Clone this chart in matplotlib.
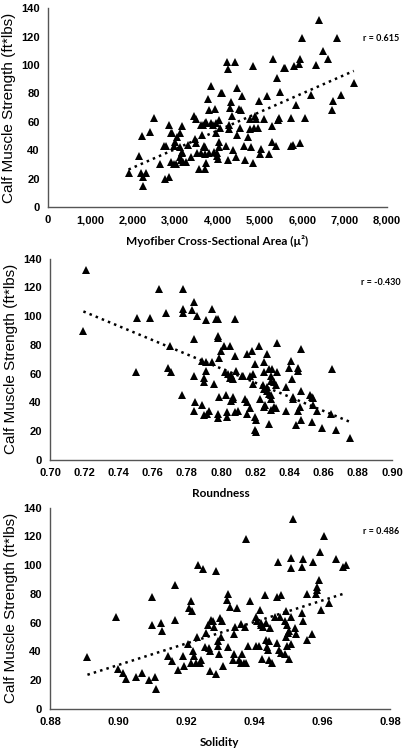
import matplotlib
matplotlib.use("Agg")
import matplotlib.pyplot as plt
from matplotlib.ticker import FuncFormatter
import numpy as np

plt.rcParams['font.family'] = 'Liberation Sans'
plt.rcParams['font.weight'] = 'bold'

# Panel 1: myofiber cross-sectional area vs strength
area = [1900, 2150, 2220, 2200, 2310, 2250, 2250, 2415, 2500, 2635, 2740, 2785, 2770, 2865,
        2850, 2890, 2935, 2910, 2975, 2990, 2980, 3020, 3045, 3110, 3165, 3125, 3150, 3115,
        3170, 3130, 3195, 3250, 3305, 3385, 3440, 3495, 3475, 3485, 3515, 3565, 3620, 3635,
        3610, 3650, 3700, 3735, 3770, 3790, 3680, 3715, 3700, 3730, 3715, 3790, 3850, 3855,
        3895, 3950, 3910, 3975, 3975, 3990, 4000, 4030, 4035, 4030, 3990, 4060, 4070, 4100,
        4200, 4225, 4250, 4255, 4270, 4270, 4305, 4325, 4335, 4365, 4405, 4440, 4460, 4460,
        4500, 4530, 4555, 4580, 4620, 4640, 4720, 4760, 4775, 4800, 4840, 4845, 4860, 4880,
        4915, 4955, 4980, 5005, 5020, 5090, 5170, 5215, 5300, 5295, 5290, 5375, 5400, 5420,
        5445, 5470, 5560, 5600, 5745, 5735, 5785, 5800, 5845, 5915, 5955, 5950, 5995, 6075,
        6210, 6320, 6390, 6490, 6595, 6705, 6720, 6820, 6910, 7215]
strength_area = [24, 36, 50, 24, 24, 21, 15, 53, 63, 30, 43, 43, 20, 21,
                 58, 52, 52, 32, 43, 46, 30, 30, 49, 52, 57, 42, 39, 35,
                 38, 33, 32, 32, 44, 35, 64, 62, 48, 45, 38, 27, 38, 51,
                 58, 58, 59, 60, 76, 68, 43, 42, 37, 31, 27, 38, 85, 59,
                 58, 69, 39, 59, 52, 36, 34, 61, 46, 42, 38, 56, 80, 80,
                 43, 102, 97, 33, 58, 55, 70, 74, 64, 40, 102, 35, 84, 51,
                 69, 56, 68, 78, 43, 33, 49, 55, 62, 42, 99, 31, 56, 64,
                 62, 56, 75, 37, 41, 62, 78, 37, 104, 57, 46, 43, 91, 61,
                 63, 81, 98, 98, 63, 43, 44, 99, 72, 101, 104, 45, 119, 63,
                 79, 100, 132, 110, 104, 68, 75, 119, 79, 87]

# Panel 2: roundness vs strength
roundness = [0.721, 0.7195, 0.750, 0.751, 0.7585, 0.764, 0.768, 0.770, 0.769, 0.771, 0.777,
             0.778, 0.778, 0.778, 0.783, 0.784, 0.786, 0.784, 0.784, 0.785, 0.784, 0.789,
             0.790, 0.790, 0.789, 0.790, 0.791, 0.791, 0.791, 0.792, 0.793, 0.795, 0.795,
             0.797, 0.796, 0.798, 0.798, 0.798, 0.799, 0.798, 0.798, 0.799, 0.800, 0.802,
             0.8025, 0.803, 0.8035, 0.8035, 0.804, 0.805, 0.805, 0.806, 0.806, 0.807, 0.807,
             0.807, 0.808, 0.808, 0.808, 0.809, 0.810, 0.812, 0.813, 0.814, 0.815, 0.815,
             0.815, 0.817, 0.817, 0.818, 0.819, 0.819, 0.820, 0.820, 0.8205, 0.820, 0.8205,
             0.822, 0.823, 0.8245, 0.825, 0.825, 0.825, 0.826, 0.825, 0.827, 0.827, 0.827,
             0.828, 0.828, 0.828, 0.829, 0.829, 0.829, 0.829, 0.829, 0.830, 0.831, 0.832,
             0.831, 0.832, 0.833, 0.833, 0.838, 0.838, 0.841, 0.840, 0.8415, 0.842, 0.842,
             0.844, 0.845, 0.845, 0.845, 0.846, 0.847, 0.847, 0.847, 0.852, 0.853, 0.853,
             0.854, 0.854, 0.856, 0.859, 0.8645, 0.865, 0.8675, 0.8756]
strength_round = [132, 90, 61, 99, 99, 119, 102, 79, 64, 61, 45,
                  119, 105, 102, 104, 110, 100, 84, 58, 40, 34, 69,
                  57, 54, 38, 31, 68, 62, 97, 32, 34, 68, 105,
                  98, 53, 86, 85, 98, 71, 32, 29, 44, 76, 79,
                  61, 45, 33, 30, 60, 79, 57, 59, 41, 56, 44,
                  42, 33, 72, 98, 62, 34, 58, 58, 42, 74, 40,
                  32, 58, 36, 76, 60, 53, 67, 30, 28, 21, 19,
                  79, 42, 52, 49, 61, 68, 38, 37, 51, 74, 48,
                  46, 25, 63, 58, 55, 45, 42, 35, 63, 54, 52,
                  37, 36, 61, 81, 51, 34, 69, 64, 56, 44, 42,
                  24, 34, 64, 62, 37, 77, 48, 28, 45, 44, 26,
                  38, 43, 34, 22, 32, 63, 21, 15]

# Panel 3: solidity vs strength
solidity = [0.891, 0.8995, 0.900, 0.9014, 0.9022, 0.9053, 0.907, 0.909, 0.910, 0.910, 0.911,
            0.9112, 0.9126, 0.913, 0.9148, 0.916, 0.9167, 0.9167, 0.9175, 0.919, 0.9195,
            0.9205, 0.921, 0.9214, 0.9217, 0.9214, 0.922, 0.9225, 0.9228, 0.9233, 0.9235,
            0.924, 0.9244, 0.925, 0.9255, 0.926, 0.9264, 0.9267, 0.927, 0.9272, 0.9275,
            0.928, 0.9282, 0.9287, 0.9288, 0.9293, 0.9295, 0.9298, 0.930, 0.9306, 0.9303,
            0.931, 0.932, 0.9325, 0.9324, 0.9329, 0.9338, 0.934, 0.9342, 0.9344, 0.935,
            0.9355, 0.9362, 0.9364, 0.9361, 0.937, 0.9375, 0.9378, 0.9376, 0.9383, 0.9388,
            0.9406, 0.9407, 0.941, 0.9416, 0.9418, 0.942, 0.9422, 0.9424, 0.9428, 0.9433,
            0.9434, 0.9436, 0.9437, 0.944, 0.9443, 0.9445, 0.9447, 0.9452, 0.9463, 0.9467,
            0.9468, 0.9472, 0.9473, 0.9477, 0.948, 0.948, 0.949, 0.9491, 0.9493, 0.9494,
            0.9496, 0.9498, 0.950, 0.9502, 0.9504, 0.9508, 0.951, 0.951, 0.951, 0.9516,
            0.9522, 0.9525, 0.954, 0.954, 0.9545, 0.9543, 0.9555, 0.9555, 0.957, 0.9575,
            0.9582, 0.9585, 0.9586, 0.959, 0.9593, 0.9597, 0.9607, 0.962, 0.9641, 0.9663,
            0.967]
strength_sol = [36, 64, 28, 25, 21, 22, 25, 20, 78, 58, 22,
                14, 60, 54, 37, 33, 86, 62, 27, 37, 30,
                45, 70, 75, 68, 32, 40, 37, 32, 50, 100,
                32, 34, 97, 43, 53, 58, 42, 40, 26, 62,
                61, 57, 96, 24, 44, 47, 38, 63, 61, 50,
                30, 76, 80, 43, 71, 34, 38, 52, 57, 70,
                34, 59, 38, 32, 32, 57, 118, 32, 44, 75,
                64, 44, 61, 44, 69, 60, 58, 35, 57, 79,
                48, 60, 43, 41, 34, 47, 56, 32, 64, 46,
                78, 102, 41, 64, 79, 39, 38, 61, 68, 50,
                58, 44, 53, 54, 35, 64, 45, 105, 98, 132,
                56, 52, 67, 99, 104, 61, 80, 48, 52, 102,
                80, 85, 83, 90, 109, 69, 120, 74, 104, 99,
                100]

panels = [
    (area, strength_area, "Myofiber Cross-Sectional Area (\u00b5\u00b2)", "r = 0.615",
     (0, 8000), np.arange(0, 8001, 1000), lambda v, p: f"{int(v):,}",
     [0.118, 0.724, 0.833, 0.265], (0.93, 0.85)),
    (roundness, strength_round, "Roundness", "r = -0.430",
     (0.70, 0.90), np.arange(0.70, 0.901, 0.02), lambda v, p: f"{v:.2f}",
     [0.123, 0.387, 0.840, 0.268], (0.91, 0.88)),
    (solidity, strength_sol, "Solidity", "r = 0.486",
     (0.88, 0.98), np.arange(0.88, 0.981, 0.02), lambda v, p: f"{v:.2f}",
     [0.123, 0.055, 0.835, 0.268], (0.92, 0.88)),
]

fig = plt.figure(figsize=(4.07, 7.5), dpi=100)

for x, y, xlabel, rtext, xlim, xticks, fmt, pos, rpos in panels:
    ax = fig.add_axes(pos)
    x = np.asarray(x)
    y = np.asarray(y)
    ax.plot(x, y, '^', color='black', ms=5.8, mew=0, zorder=3)

    # linear trendline
    k, b = np.polyfit(x, y, 1)
    xs = np.array([x.min(), x.max()])
    ax.plot(xs, k * xs + b, ':', color='black', lw=1.8, zorder=2)

    ax.set_xlim(*xlim)
    ax.set_ylim(0, 140)
    ax.set_xticks(xticks)
    ax.set_yticks(np.arange(0, 141, 20))
    ax.xaxis.set_major_formatter(FuncFormatter(fmt))
    ax.tick_params(length=0, labelsize=8, pad=6)

    for s in ['top', 'right']:
        ax.spines[s].set_visible(False)
    for s in ['left', 'bottom']:
        ax.spines[s].set_color('#555555')
        ax.spines[s].set_linewidth(1.0)

    ax.set_xlabel(xlabel, fontsize=8.5, fontweight='bold', family='Lato', labelpad=7)
    ax.set_ylabel("Calf Muscle Strength (ft*lbs)", fontsize=11, fontweight='normal',
                  family='Liberation Sans', labelpad=4)
    ax.text(rpos[0], rpos[1], rtext, transform=ax.transAxes, fontsize=6.5,
            fontweight='bold', family='Lato', ha='left', va='center')

fig.savefig("out.png", dpi=100)
